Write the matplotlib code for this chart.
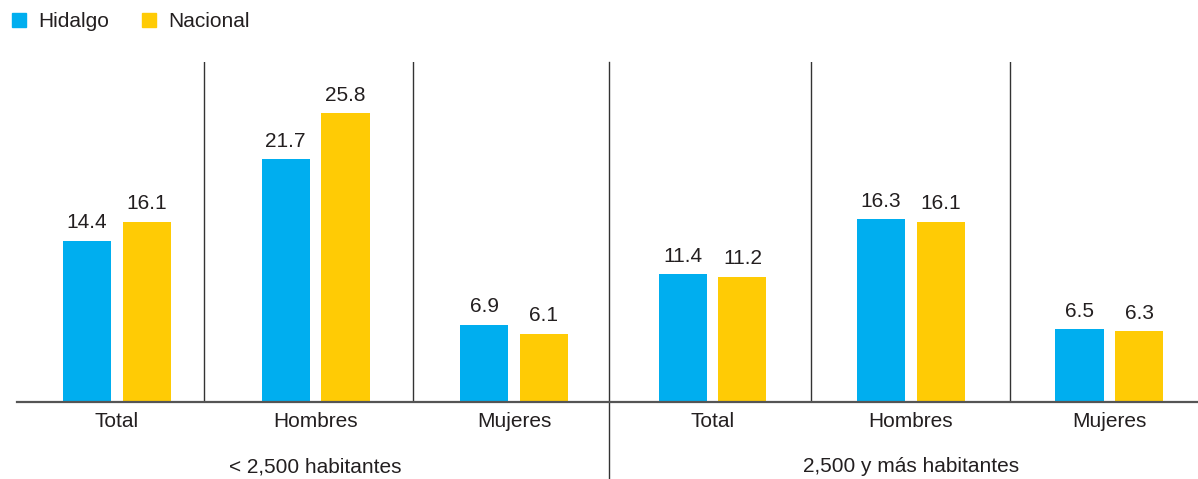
import numpy as np
import matplotlib.pyplot as plt
from matplotlib.patches import Patch

plt.rcParams["font.family"] = ["Liberation Sans", "DejaVu Sans"]

# ===============================
# DATA
# ===============================
categories = ["Total", "Hombres", "Mujeres", "Total", "Hombres", "Mujeres"]
hidalgo = [14.4, 21.7, 6.9, 11.4, 16.3, 6.5]
nacional = [16.1, 25.8, 6.1, 11.2, 16.1, 6.3]
groups = ["< 2,500 habitantes", "2,500 y más habitantes"]
group_centers = [1, 4]

# ===============================
# STYLE
# ===============================
c_hid = "#00AEEF"
c_nac = "#FFCB05"
txt = "#231F20"
fs = 15

W, H = 1198, 479
fig = plt.figure(figsize=(W / 100, H / 100), dpi=100)
ax = fig.add_axes([17 / W, 77 / H, 1 - 17 / W, 340 / H])

x = np.arange(len(categories))
bw = 0.242
off = 0.151

b1 = ax.bar(x - off, hidalgo, bw, color=c_hid, label="Hidalgo")
b2 = ax.bar(x + off, nacional, bw, color=c_nac, label="Nacional")

for b in (b1, b2):
    ax.bar_label(b, fmt="%.1f", padding=6, fontsize=fs, color=txt)

ax.set_xlim(-0.504, 5.446)
ax.set_ylim(0, 30.36)

ax.set_xticks(x)
ax.set_xticklabels(categories, fontsize=fs, color=txt)
ax.tick_params(axis="x", length=0, pad=7)
ax.set_yticks([])

for s in ["top", "left", "right"]:
    ax.spines[s].set_visible(False)
ax.spines["bottom"].set_color("#555555")
ax.spines["bottom"].set_linewidth(1.6)

# separators between categories
seps = [0.438, 1.491, 2.479, 3.496, 4.499]
for i, sx in enumerate(seps):
    if i == 2:
        ax.axvline(sx, ymin=-0.2265, ymax=1, color="#333333", lw=1.0, clip_on=False)
    else:
        ax.axvline(sx, ymin=0, ymax=1, color="#333333", lw=1.0)

# group labels
for g, gx in zip(groups, group_centers):
    ax.text(gx, -0.191, g, transform=ax.get_xaxis_transform(),
            ha="center", va="center", fontsize=fs, color=txt)

# legend
handles = [Patch(color=c_hid, label="Hidalgo"), Patch(color=c_nac, label="Nacional")]
leg = fig.legend(handles=handles, loc="upper left", bbox_to_anchor=(12 / W, 1 - 12 / H),
                 ncol=2, frameon=False, fontsize=fs, handlelength=0.65,
                 handleheight=0.65, handletextpad=0.6, columnspacing=1.6,
                 borderpad=0, borderaxespad=0)
for t in leg.get_texts():
    t.set_color(txt)

plt.savefig("out.png", dpi=100)
